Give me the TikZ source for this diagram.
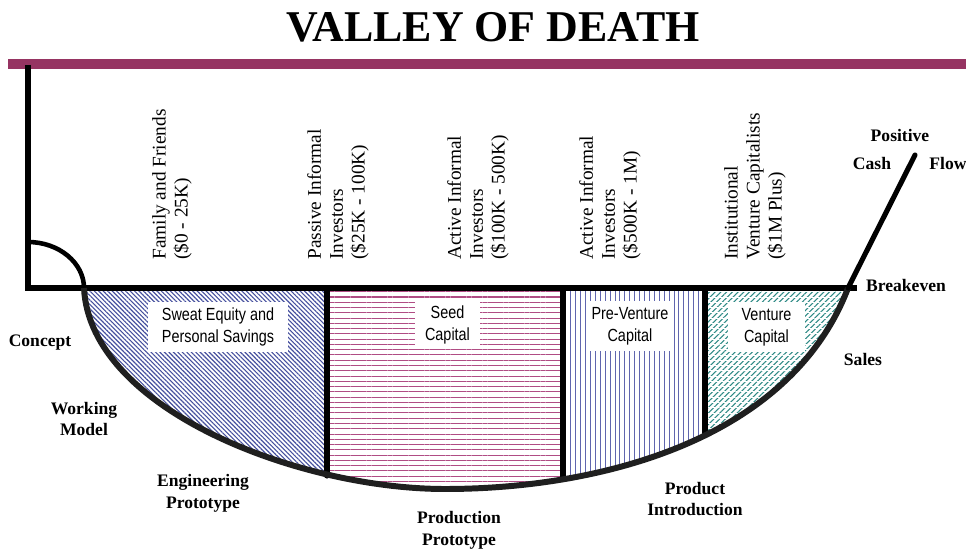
\documentclass[tikz,border=0pt]{standalone}
\usepackage{fontspec}
\setmainfont{Liberation Serif}
\newfontfamily\boxfont[FakeStretch=0.82]{Liberation Sans}
\usepackage{tikz}
\usetikzlibrary{patterns.meta}
\definecolor{valMaroon}{HTML}{963462}
\definecolor{valNavy}{HTML}{46509E}
\definecolor{valRose}{HTML}{B04C84}
\definecolor{valLilac}{HTML}{6066AE}
\definecolor{valTeal}{HTML}{2E8A85}

\begin{document}
\begin{tikzpicture}[
  x=0.02cm, y=-0.02cm,
  heavy/.style={line width=2.9pt, line cap=round},
  funder/.style={rotate=90, anchor=west, align=left, inner sep=0pt,
                 font=\fontsize{11}{12.5}\selectfont},
  stage/.style={align=center, inner sep=0pt, font=\fontsize{10}{12.5}\selectfont\bfseries},
  capbox/.style={fill=white, align=center, inner sep=0pt, minimum height=1.0cm,
                 font=\boxfont\fontsize{10}{12.5}\selectfont},
]
\useasboundingbox (0,0) rectangle (966,550);

% title and bar
\node[font=\fontsize{25}{29}\selectfont\bfseries] (title) at (493,27) {VALLEY OF DEATH};
\fill[valMaroon] (8,59) rectangle (966,69);

% key points
\coordinate (top) at (28,65);
\coordinate (corner) at (28,288);
\coordinate (ruleend) at (857,288);
\coordinate (arcstart) at (28,242);
\coordinate (rim) at (84,288);
\coordinate (floor) at (445,489);
\coordinate (even) at (848,288);
\coordinate (flow) at (915,155);

% hatched funding stages
\begin{scope}
  \clip (rim) .. controls (90,410) and (300,489) .. (floor)
        .. controls (600,489) and (790,440) .. (even) -- cycle;
  \fill[pattern={Lines[angle=-45,distance=1.8pt,line width=0.65pt]}, pattern color=valNavy]
    (80,280) rectangle (327,500);
  \fill[pattern={Lines[angle=0,distance=3pt,line width=0.6pt]}, pattern color=valRose]
    (327,280) rectangle (563,500);
  \fill[pattern={Lines[angle=90,distance=2.8pt,line width=0.5pt]}, pattern color=valLilac]
    (563,280) rectangle (705,500);
  \fill[pattern={Lines[angle=45,distance=2.3pt,line width=0.6pt]}, pattern color=valTeal]
    (705,280) rectangle (860,500);
  \fill[pattern={Lines[angle=0,distance=3pt,line width=0.45pt]}, pattern color=white]
    (705,280) rectangle (860,500);
\end{scope}

\node[capbox, minimum width=2.8cm] (sweat) at (218,327) {Sweat Equity and\\Personal Savings};
\node[capbox, minimum width=1.3cm, minimum height=0.96cm] (seed) at (447.5,325) {Seed\\Capital};
\node[capbox, minimum width=1.68cm] (prevc) at (630,326) {Pre-Venture\\Capital};
\node[capbox, minimum width=1.54cm] (vc) at (766.5,327) {Venture\\Capital};

% dividers
\coordinate (d1) at (327,288); \coordinate (d1b) at (327,476);
\coordinate (d2) at (563,288); \coordinate (d2b) at (563,480);
\coordinate (d3) at (705,288); \coordinate (d3b) at (705,437);
\draw[heavy] (d1) -- (d1b);
\draw[heavy, line cap=butt] (d2) -- (d2b);
\draw[heavy, line cap=butt] (d3) -- (d3b);

% axes, valley and exit
\draw[line width=3.2pt] (top) -- (corner) -- (ruleend);
\draw[line width=2.6pt] (arcstart) .. controls (59,242) and (84,263) .. (rim);
\draw[line width=3.4pt, black!88] (rim) .. controls (90,410) and (300,489) .. (floor)
  .. controls (600,489) and (790,440) .. (even);
\draw[heavy] (even) -- (flow);

% investors
\node[funder] (family) at (172,260) {Family and Friends\\(\$0 - 25K)};
\node[funder] (passive) at (338,260) {Passive Informal\\Investors\\(\$25K - 100K)};
\node[funder] (active) at (478,260) {Active Informal\\Investors\\(\$100K - 500K)};
\node[funder] (activebig) at (610,260) {Active Informal\\Investors\\(\$500K - 1M)};
\node[funder] (inst) at (755,260) {Institutional\\Venture Capitalists\\(\$1M Plus)};

% milestones
\node[stage] (concept) at (40,343) {Concept};
\node[stage] (working) at (84,419) {Working\\Model};
\node[stage] (eng) at (203,493) {Engineering\\Prototype};
\node[stage] (prod) at (459,530) {Production\\Prototype};
\node[stage] (intro) at (695,499) {Product\\Introduction};
\node[stage] (sales) at (863,359) {Sales};
\node[stage] (breakeven) at (906,285) {Breakeven};
\node[stage] (positive) at (900,135) {Positive};
\node[stage] (cash) at (872,163) {Cash};
\node[stage] (flowtxt) at (948,163) {Flow};
\end{tikzpicture}
\end{document}
